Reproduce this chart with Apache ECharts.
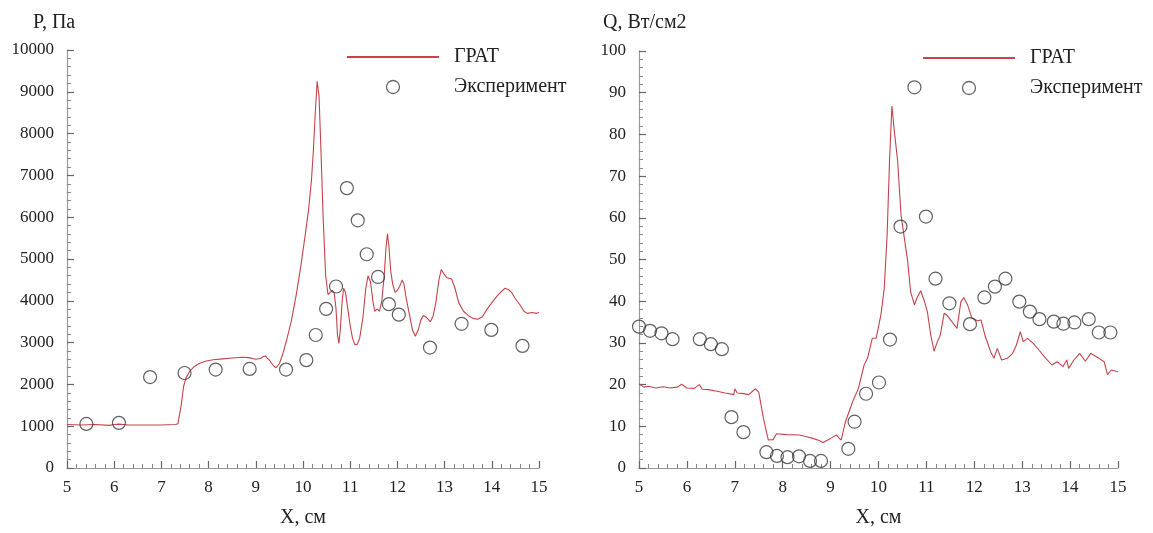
<!DOCTYPE html>
<html>
<head>
<meta charset="utf-8">
<script src="https://cdn.jsdelivr.net/npm/echarts@6/dist/echarts.min.js"></script>
<style>
html,body{margin:0;padding:0;background:#fff;}
#chart{width:1153px;height:533px;}
</style>
</head>
<body>
<div id="chart"></div>
<script>
// ---------- DATA ----------
const xTicks = [5, 6, 7, 8, 9, 10, 11, 12, 13, 14, 15];
const seriesNames = ['ГРАТ', 'Эксперимент'];
const leftTitle = 'P, Па';
const rightTitle = 'Q, Вт/см2';
const xTitle = 'X, см';

// Left chart: pressure, ГРАТ line
const pGratX = [5.0,5.3,5.6,5.9,6.0,6.1,6.3,6.6,7.0,7.3,7.35,7.42,7.47,7.52,7.6,7.7,7.8,7.95,8.1,8.3,8.5,8.7,8.85,9.0,9.1,9.15,9.2,9.25,9.3,9.38,9.43,9.5,9.57,9.65,9.75,9.85,9.95,10.05,10.12,10.18,10.22,10.26,10.3,10.34,10.38,10.43,10.48,10.53,10.58,10.62,10.66,10.7,10.73,10.76,10.79,10.83,10.86,10.9,10.95,11.0,11.05,11.1,11.15,11.2,11.27,11.33,11.38,11.43,11.48,11.52,11.57,11.62,11.67,11.72,11.76,11.79,11.82,11.86,11.9,11.95,12.0,12.05,12.1,12.14,12.18,12.25,12.32,12.38,12.44,12.5,12.55,12.62,12.7,12.76,12.82,12.88,12.93,12.98,13.05,13.15,13.22,13.3,13.4,13.5,13.6,13.7,13.8,13.9,14.0,14.1,14.2,14.28,14.35,14.42,14.5,14.6,14.68,14.75,14.85,14.95,15.0];
const pGratY = [1040,1030,1040,1020,1040,1050,1030,1030,1030,1040,1060,1500,1950,2150,2320,2430,2500,2560,2590,2610,2630,2650,2640,2600,2620,2660,2680,2620,2560,2440,2400,2500,2720,3050,3500,4100,4800,5600,6200,6900,7600,8500,9250,8900,7600,5900,4600,4150,4200,4250,4200,3800,3200,2980,3300,4000,4300,4200,3800,3400,3100,2950,2960,3100,3600,4300,4600,4450,4000,3750,3800,3750,4000,4600,5300,5600,5300,4700,4400,4200,4250,4350,4500,4400,4100,3700,3300,3150,3300,3550,3650,3600,3500,3650,4000,4500,4750,4650,4550,4520,4300,3950,3750,3650,3580,3560,3620,3800,3950,4100,4220,4300,4270,4200,4050,3900,3750,3700,3720,3700,3720];
// Left chart: pressure, experiment
const pExpX = [5.41,6.10,6.76,7.49,8.15,8.87,9.64,10.07,10.27,10.49,10.70,10.93,11.16,11.35,11.59,11.82,12.03,12.69,13.36,13.99,14.65];
const pExpY = [1055,1080,2175,2273,2354,2370,2354,2581,3182,3807,4342,6696,5925,5114,4570,3920,3669,2881,3450,3304,2922];

// Right chart: heat flux, ГРАТ line
const qGratX = [5.0,5.1,5.2,5.35,5.5,5.65,5.8,5.89,6.0,6.15,6.26,6.32,6.45,6.63,6.8,6.98,7.0,7.05,7.15,7.29,7.43,7.5,7.6,7.7,7.8,7.87,8.08,8.35,8.5,8.63,8.76,8.84,9.0,9.12,9.22,9.31,9.46,9.58,9.7,9.77,9.87,9.95,10.05,10.12,10.18,10.23,10.28,10.33,10.4,10.47,10.55,10.61,10.67,10.75,10.8,10.88,10.95,11.02,11.09,11.16,11.23,11.29,11.37,11.42,11.48,11.56,11.64,11.72,11.78,11.86,11.95,12.07,12.14,12.22,12.34,12.41,12.48,12.57,12.69,12.8,12.88,12.96,13.02,13.11,13.23,13.35,13.46,13.62,13.73,13.85,13.93,13.97,14.08,14.2,14.32,14.43,14.59,14.71,14.78,14.86,15.0];
const qGratY = [20.2,19.4,19.6,19.2,19.5,19.2,19.4,20.1,19.2,19.1,20.0,18.9,18.8,18.4,18.0,17.6,19.0,18.0,17.9,17.6,19.0,18.2,11.8,6.7,6.8,8.2,8.0,7.9,7.5,7.1,6.6,6.1,7.1,7.9,6.7,11.1,15.9,19.1,24.7,26.3,31.1,31.1,36.7,43.1,55.9,73.6,86.8,80.8,73.6,60.7,54.3,49.5,42.3,39.1,40.7,42.5,40.3,37.5,31.9,28.0,30.3,31.9,37.1,36.7,35.9,34.7,33.5,39.9,40.9,39.1,35.9,35.3,35.5,31.9,27.9,26.3,28.7,25.9,26.3,27.5,29.5,32.7,30.3,31.1,29.9,28.3,26.7,24.7,25.5,24.3,25.9,23.9,25.9,27.5,25.6,27.5,26.4,25.5,22.4,23.5,23.1];
// Right chart: heat flux, experiment
const qExpX = [5.0,5.23,5.47,5.70,6.27,6.50,6.73,6.93,7.18,7.66,7.88,8.10,8.34,8.57,8.80,9.37,9.50,9.74,10.01,10.24,10.46,10.75,10.99,11.19,11.48,11.91,12.21,12.43,12.65,12.94,13.16,13.36,13.66,13.86,14.09,14.39,14.60,14.84];
const qExpY = [33.9,32.9,32.3,30.9,30.9,29.7,28.5,12.2,8.6,3.8,2.9,2.6,2.8,1.7,1.7,4.6,11.1,17.8,20.5,30.8,57.9,91.3,60.3,45.4,39.5,34.5,40.9,43.5,45.4,39.9,37.5,35.7,35.1,34.6,34.9,35.7,32.5,32.5];

// ---------- BUILD ----------
function pairs(xs, ys){ return xs.map((x,i)=>[x, ys[i]]); }

const FONT = 'Liberation Serif';
const lineColor = '#c4444a';
const circleStyle = { color: 'rgba(255,255,255,0)', borderColor: '#3a3a3a', borderWidth: 1.2 };

function xAxisCfg(gi){
  return {
    type: 'value', gridIndex: gi, min: xTicks[0], max: xTicks[xTicks.length-1], interval: 1,
    name: xTitle, nameLocation: 'middle', nameGap: 40,
    nameTextStyle: { fontFamily: FONT, fontSize: 20, color: '#222' },
    axisLine: { show: true, onZero: false, lineStyle: { color: '#999', width: 1.2 } },
    axisTick: { show: true, inside: true, length: 7, lineStyle: { color: '#666', width: 1.2 } },
    minorTick: { show: true, splitNumber: 5, length: 4, lineStyle: { color: '#888', width: 1 } },
    splitLine: { show: false },
    axisLabel: { fontFamily: FONT, fontSize: 17, color: '#222', margin: 11, formatter: v => String(v) }
  };
}
function yAxisCfg(gi, max, interval){
  return {
    type: 'value', gridIndex: gi, min: 0, max: max, interval: interval,
    axisLine: { show: true, onZero: false, lineStyle: { color: '#999', width: 1.2 } },
    axisTick: { show: true, inside: true, length: 7, lineStyle: { color: '#666', width: 1.2 } },
    minorTick: { show: true, splitNumber: 5, length: 4, lineStyle: { color: '#888', width: 1 } },
    splitLine: { show: false },
    axisLabel: { fontFamily: FONT, fontSize: 17, color: '#222', margin: 13, formatter: v => String(v) }
  };
}
function legendCfg(left, top){
  return {
    left: left, top: top, orient: 'vertical',
    data: [
      { name: seriesNames[0], itemStyle: { opacity: 0 } },
      { name: seriesNames[1], itemStyle: { color: 'rgba(255,255,255,0)', borderColor: '#444', borderWidth: 1.3 } }
    ],
    itemWidth: 92, itemHeight: 13, itemGap: 10,
    textStyle: { fontFamily: FONT, fontSize: 20, color: '#222', lineHeight: 20, padding: [0,0,0,10] },
    selectedMode: false
  };
}

const option = {
  backgroundColor: '#fff',
  animation: false,
  title: [
    { text: leftTitle, left: 28, top: 8, textStyle: { fontFamily: FONT, fontSize: 20, fontWeight: 'normal', color: '#222' } },
    { text: rightTitle, left: 598, top: 8, textStyle: { fontFamily: FONT, fontSize: 20, fontWeight: 'normal', color: '#222' } }
  ],
  grid: [
    { left: 67, top: 50, width: 472, height: 418 },
    { left: 639, top: 51, width: 479, height: 424 }
  ],
  legend: [legendCfg(341, 42), legendCfg(917, 43)],
  xAxis: [xAxisCfg(0), xAxisCfg(1)],
  yAxis: [yAxisCfg(0, 10000, 1000), yAxisCfg(1, 100, 10)],
  series: [
    { name: seriesNames[0], type: 'line', xAxisIndex: 0, yAxisIndex: 0, data: pairs(pGratX, pGratY),
      showSymbol: false, symbol: 'none', lineStyle: { color: lineColor, width: 1.1 }, itemStyle: { color: lineColor } },
    { name: seriesNames[1], type: 'scatter', xAxisIndex: 0, yAxisIndex: 0, data: pairs(pExpX, pExpY),
      symbol: 'circle', symbolSize: 13, itemStyle: circleStyle, z: 3 },
    { name: seriesNames[0], type: 'line', xAxisIndex: 1, yAxisIndex: 1, data: pairs(qGratX, qGratY),
      showSymbol: false, symbol: 'none', lineStyle: { color: lineColor, width: 1.1 }, itemStyle: { color: lineColor } },
    { name: seriesNames[1], type: 'scatter', xAxisIndex: 1, yAxisIndex: 1, data: pairs(qExpX, qExpY),
      symbol: 'circle', symbolSize: 13, itemStyle: circleStyle, z: 3 }
  ]
};

const chart = echarts.init(document.getElementById('chart'), null, { renderer: 'canvas' });
chart.setOption(option);
</script>
</body>
</html>
